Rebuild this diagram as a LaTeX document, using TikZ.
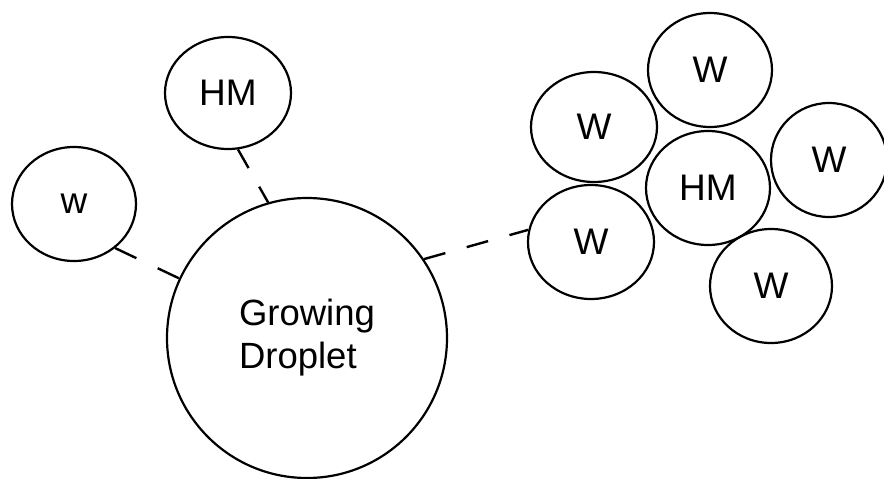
\documentclass[tikz,border=0pt]{standalone}
\usepackage{fontspec}
\setmainfont{Liberation Sans}
\usetikzlibrary{shapes.geometric}
\tikzset{
  mol/.style={draw=black, line width=2.2pt, ellipse, inner sep=0pt,
    font=\fontsize{37}{43}\selectfont},
  link/.style={draw=black, line width=2.4pt}
}
\begin{document}
\begin{tikzpicture}[x=1pt, y=-1pt]
\useasboundingbox (0,0) rectangle (884,479);
% droplet
\node[draw=black, line width=2.2pt, circle, minimum size=280pt, inner sep=0pt,
  align=left, font=\fontsize{36.5}{43}\selectfont] (drop) at (307,338) {Growing\\Droplet};
% isolated molecules
\node[mol, minimum width=124pt, minimum height=114pt] (w) at (74,204) {w};
\node[mol, minimum width=126pt, minimum height=112pt] (hm) at (228,93) {HM};
% cluster
\node[mol, minimum width=124pt, minimum height=114pt] (wt) at (710,70) {W};
\node[mol, minimum width=126pt, minimum height=110pt] (wl) at (594,127) {W};
\node[mol, minimum width=124pt, minimum height=114pt] (hmc) at (708,188) {HM};
\node[mol, minimum width=116pt, minimum height=114pt] (wr) at (829,160) {W};
\node[mol, minimum width=126pt, minimum height=114pt] (wll) at (591,242) {W};
\node[mol, minimum width=122pt, minimum height=114pt] (wb) at (771,286) {W};
% connectors
\draw[link, dash pattern=on 23.5pt off 23.6pt] (w.-47) -- (drop.155);
\draw[link, dash pattern=on 21.5pt off 21.4pt] (hm.-80) -- (drop.106);
\draw[link, dash pattern=on 22.2pt off 22.2pt] (drop.34) -- (wll.169);
\end{tikzpicture}
\end{document}
